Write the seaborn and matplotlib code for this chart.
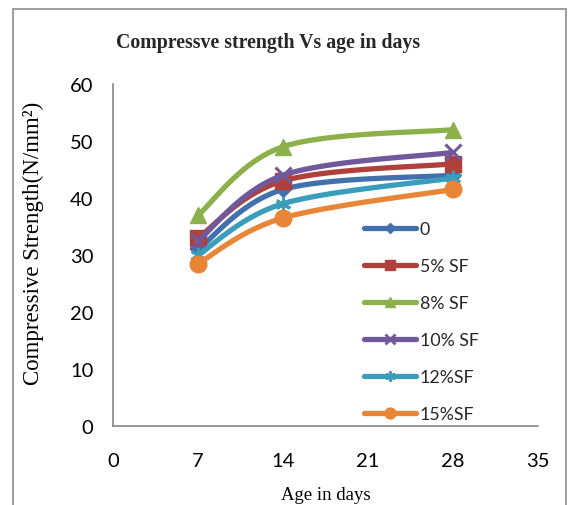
import numpy as np
import pandas as pd
import matplotlib
matplotlib.use("Agg")
import matplotlib.pyplot as plt
from matplotlib.lines import Line2D
from matplotlib.patches import Rectangle
import seaborn as sns

ages = [7, 14, 28]
series_names = ["0", "5% SF", "8% SF", "10% SF", "12%SF", "15%SF"]
s0 = [31.0, 41.5, 44.0]
s5 = [33.0, 43.0, 46.0]
s8 = [37.0, 49.0, 52.0]
s10 = [32.5, 44.0, 48.0]
s12 = [30.0, 39.0, 43.5]
s15 = [28.5, 36.5, 41.5]
xticks = [0, 7, 14, 21, 28, 35]
yticks = [0, 10, 20, 30, 40, 50, 60]

colors = ["#4270AC", "#B0403C", "#8CB04A", "#71589A", "#3A9DBB", "#E98536"]
markers = ["D", "s", "^", "x", (6, 2, 0), "o"]
msizes = [8, 11, 12, 11, 11, 12]

sns.set_theme(style="white")
plt.rcParams["font.family"] = ["Lato", "DejaVu Sans"]

rows = []
for name, vals in zip(series_names, [s0, s5, s8, s10, s12, s15]):
    for a, v in zip(ages, vals):
        rows.append({"age": a, "strength": v, "series": name})
df = pd.DataFrame(rows)

fig = plt.figure(figsize=(5.68, 5.06), dpi=100)
ax = fig.add_axes([113/568, 1-427/506, (538-113)/568, (427-85)/506])
ax.set_xlim(0, 35)
ax.set_ylim(0, 60)

def bezier_smooth(xs, ys, n=40):
    # Excel-like smoothing: cubic Bezier with neighbour-based control points
    P = np.column_stack([xs, ys]).astype(float)
    sx, sy = 425/35, 342/60
    Q = P * [sx, sy]
    out = []
    m = len(Q)
    for i in range(m - 1):
        p0 = Q[i - 1] if i > 0 else Q[i]
        p1 = Q[i]
        p2 = Q[i + 1]
        p3 = Q[i + 2] if i + 2 < m else Q[i + 1]
        c1 = p1 + (p2 - p0) / 6
        c2 = p2 - (p3 - p1) / 6
        t = np.linspace(0, 1, n)[:, None]
        seg = (1-t)**3*p1 + 3*(1-t)**2*t*c1 + 3*(1-t)*t**2*c2 + t**3*p2
        out.append(seg if i == 0 else seg[1:])
    R = np.vstack(out) / [sx, sy]
    return R[:, 0], R[:, 1]

for name, c, mk, ms in zip(series_names, colors, markers, msizes):
    sub = df[df.series == name]
    cx, cy = bezier_smooth(sub.age.values, sub.strength.values)
    curve = pd.DataFrame({"x": cx, "y": cy})
    sns.lineplot(data=curve, x="x", y="y", ax=ax, color=c, lw=3.8, sort=False,
                 estimator=None, solid_capstyle="round")
    if mk == "x" or isinstance(mk, tuple):
        ax.plot(sub.age, sub.strength, ls="none", marker=mk, ms=ms, mew=2.2, color=c, mec=c)
    else:
        ax.plot(sub.age, sub.strength, ls="none", marker=mk, ms=ms, color=c, mec=c)

ax.set_xticks(xticks)
ax.set_yticks(yticks)
ax.tick_params(axis="both", labelsize=14.5, colors="black", length=6, width=1, direction="out")
ax.tick_params(axis="x", pad=13, color="#888888")
ax.tick_params(axis="y", pad=8, color="#888888")
for s in ["top", "right"]:
    ax.spines[s].set_visible(False)
for s in ["left", "bottom"]:
    ax.spines[s].set_color("#888888")
    ax.spines[s].set_linewidth(1.2)

ax.set_xlabel("Age in days", family="Liberation Serif", fontsize=13.5, labelpad=12, color="black")
ax.set_ylabel("Compressive Strength(N/mm\u00b2)", family="Liberation Serif", fontsize=16.5,
              color="black")
ax.yaxis.set_label_coords(44/568, 1-243/506, transform=fig.transFigure)
fig.text(268/568, 1-43/506, "Compressve strength Vs age in days", family="Liberation Serif",
         fontweight="bold", fontsize=14.3, ha="center", va="center")

handles = []
for name, c, mk, ms in zip(series_names, colors, markers, msizes):
    if mk == "x" or isinstance(mk, tuple):
        h = Line2D([], [], color=c, lw=3.8, marker=mk, ms=ms*0.65, mew=2, mec=c, solid_capstyle="round")
    else:
        h = Line2D([], [], color=c, lw=3.8, marker=mk, ms=ms*0.65, mec=c, solid_capstyle="round")
    handles.append(h)
leg = ax.legend(handles, series_names, loc="upper left", bbox_to_anchor=(355/568, 1-213/506),
                bbox_transform=fig.transFigure, frameon=False, fontsize=12.8,
                handlelength=2.95, handletextpad=0.2, labelspacing=1.18, borderpad=0)

fig.patches.append(Rectangle((13/568, -0.1), (566-13)/568, 1.1 - 10/506, transform=fig.transFigure,
                             fill=False, edgecolor="#8c8c8c", lw=1.2))

fig.savefig("out.png", dpi=100)
